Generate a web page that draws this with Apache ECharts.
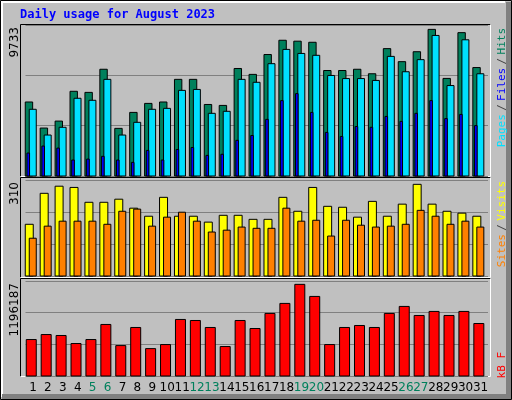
<!DOCTYPE html>
<html><head><meta charset="utf-8">
<script src="https://cdn.jsdelivr.net/npm/echarts@6/dist/echarts.min.js"></script>
<style>html,body{margin:0;padding:0;background:#c0c0c0}#c{width:512px;height:400px}</style>
</head><body><div id="c"></div>
<script>
var days = ['1','2','3','4','5','6','7','8','9','10','11','12','13','14','15','16','17','18','19','20','21','22','23','24','25','26','27','28','29','30','31'];
var weekends = ['5','6','12','13','19','20','26','27'];
var hits  = [4770,3090,3540,5460,5390,6880,3070,4100,4680,4770,6230,6230,4610,4550,6930,6550,7830,8750,8690,8620,6800,6800,6880,6590,8210,7370,8010,9450,6290,9240,6990];
var files = [4300,2640,3140,5010,4880,6230,2640,3460,4300,4360,5520,5580,4040,4170,6230,6040,7240,8160,7900,7780,6480,6280,6280,6160,7710,6720,7500,9060,5830,8780,6590];
var pages = [1480,1930,1800,1030,1090,1270,1030,880,1650,1030,1710,1840,1330,1400,2300,2610,3650,4860,5310,4100,2810,2550,3190,3140,3840,3520,4040,4860,3700,3970,3250];
var visits = [167,267,290,286,238,238,248,219,193,254,193,193,174,196,196,183,183,254,209,286,225,222,190,241,193,232,296,232,209,203,193];
var sites  = [122,161,177,177,177,167,209,216,161,190,206,177,142,148,158,154,154,219,177,180,129,180,164,158,161,167,212,193,167,177,158];
var kbytes = [459000,522000,510000,409000,459000,649000,383000,611000,345000,396000,712000,699000,611000,371000,699000,598000,788000,914000,1154000,1002000,396000,611000,636000,611000,788000,876000,762000,813000,762000,813000,661000];
var maxHits = 9733, maxVisits = 310, maxKB = 1196187;

function mk(fn){return days.map(function(d,i){return fn(i);});}
function barRender(specs){
  return function(params, api){
    var i = api.value(0);
    var base = api.coord([i,0]);
    var ch = [];
    specs.forEach(function(s,k){
      var top = api.coord([i, api.value(k+1)]);
      ch.push({type:'rect',shape:{x:base[0]+s.o,y:top[1],width:s.w,height:base[1]-top[1]},
        style:{fill:s.c,stroke:'#000',lineWidth:1}});
    });
    return {type:'group',children:ch};
  };
}
var L = 25.5, W = 462.5;
var grids = [
  {left:L,width:W,top:25,height:151},
  {left:L,width:W,top:180,height:96},
  {left:L,width:W,top:281,height:95}
];
function xa(idx,show){return {type:'category',gridIndex:idx,data:days,boundaryGap:true,
  axisLine:{show:false},axisTick:{show:false},
  axisLabel:{show:show,interval:0,margin:6,fontSize:12,fontFamily:'DejaVu Sans',
    color:function(v){return weekends.indexOf(v)>=0?'#00805c':'#000';}}};}
function ya(idx,max){return {type:'value',gridIndex:idx,min:0,max:max,interval:max/3,
  axisLabel:{show:false},axisLine:{show:false},axisTick:{show:false},
  splitLine:{show:true,lineStyle:{color:'#808080',width:1}}};}
function panel(x,y,w,h){return [
  {type:'line',shape:{x1:x,y1:y,x2:x+w,y2:y},style:{stroke:'#000',lineWidth:1},z:-1},
  {type:'line',shape:{x1:x,y1:y,x2:x,y2:y+h},style:{stroke:'#000',lineWidth:1},z:-1},
  {type:'line',shape:{x1:x+w,y1:y,x2:x+w,y2:y+h},style:{stroke:'#fff',lineWidth:1},z:-1},
  {type:'line',shape:{x1:x,y1:y+h,x2:x+w,y2:y+h},style:{stroke:'#fff',lineWidth:1},z:-1}];}
function rtext(x,y,align,rich,txt){return {type:'text',x:x,y:y,rotation:Math.PI/2,
  style:{text:txt,align:align,verticalAlign:'middle',font:'11px "DejaVu Sans Mono"',rich:rich}};}
var mono = 'DejaVu Sans Mono';
var gfx = [
  {type:'rect',shape:{x:0.5,y:0.5,width:511,height:399},style:{fill:'#c0c0c0',stroke:'#000',lineWidth:1},z:-10},
  {type:'polyline',shape:{points:[[2,397],[2,2],[505,2]]},style:{stroke:'#fff',lineWidth:2,fill:null},z:-9},
  {type:'rect',shape:{x:506,y:2,width:5,height:397},style:{fill:'#808080'},z:-9},
  {type:'rect',shape:{x:2,y:394,width:509,height:5},style:{fill:'#808080'},z:-9},
  {type:'text',x:20,y:15,style:{text:'Daily usage for August 2023',fill:'#0000ff',font:'bold 12px "DejaVu Sans Mono"',verticalAlign:'middle'}},
  {type:'text',x:15,y:27,rotation:Math.PI/2,style:{text:String(maxHits),align:'right',verticalAlign:'middle',font:'12px "DejaVu Sans"',fill:'#000'}},
  {type:'text',x:15,y:182,rotation:Math.PI/2,style:{text:String(maxVisits),align:'right',verticalAlign:'middle',font:'12px "DejaVu Sans"',fill:'#000'}},
  {type:'text',x:15,y:283,rotation:Math.PI/2,style:{text:String(maxKB),align:'right',verticalAlign:'middle',font:'12px "DejaVu Sans"',fill:'#000'}},
  {type:'text',x:502,y:28,rotation:Math.PI/2,style:{text:'{p|Pages} {s|/} {f|Files} {s|/} {h|Hits}',align:'right',verticalAlign:'middle',
    rich:{p:{fill:'#00e0ff',fontFamily:mono,fontSize:11},f:{fill:'#0000ff',fontFamily:mono,fontSize:11},h:{fill:'#00805c',fontFamily:mono,fontSize:11},s:{fill:'#404040',fontFamily:mono,fontSize:11}}}},
  {type:'text',x:502,y:181,rotation:Math.PI/2,style:{text:'{a|Sites} {s|/} {b|Visits}',align:'right',verticalAlign:'middle',
    rich:{a:{fill:'#ff8000',fontFamily:mono,fontSize:11},b:{fill:'#ffff00',fontFamily:mono,fontSize:11},s:{fill:'#404040',fontFamily:mono,fontSize:11}}}},
  {type:'text',x:502,y:352,rotation:Math.PI/2,style:{text:'kB F',align:'right',verticalAlign:'middle',fill:'#ff0000',font:'11px "DejaVu Sans Mono"'}}
].concat(panel(20.5,24.5,470,152),panel(20.5,177.5,470,100),panel(20.5,278.5,470,98));

var chart = echarts.init(document.getElementById('c'),null,{renderer:'canvas'});
chart.setOption({
  animation:false,backgroundColor:'#c0c0c0',
  graphic:gfx,
  grid:grids,
  xAxis:[xa(0,false),xa(1,false),xa(2,true)],
  yAxis:[ya(0,maxHits),ya(1,maxVisits),ya(2,maxKB)],
  series:[
    {type:'custom',xAxisIndex:0,yAxisIndex:0,data:mk(function(i){return [i,hits[i],files[i],pages[i]];}),
     renderItem:barRender([{o:-7.7,w:7.4,c:'#00805c'},{o:-3.7,w:7,c:'#00e0ff'},{o:-6,w:2.6,c:'#0000ff'}])},
    {type:'custom',xAxisIndex:1,yAxisIndex:1,data:mk(function(i){return [i,visits[i],sites[i]];}),
     renderItem:barRender([{o:-7.7,w:8,c:'#ffff00'},{o:-3.7,w:7,c:'#ff8000'}])},
    {type:'custom',xAxisIndex:2,yAxisIndex:2,data:mk(function(i){return [i,kbytes[i]];}),
     renderItem:barRender([{o:-6.7,w:10,c:'#ff0000'}])}
  ]
});
</script></body></html>
